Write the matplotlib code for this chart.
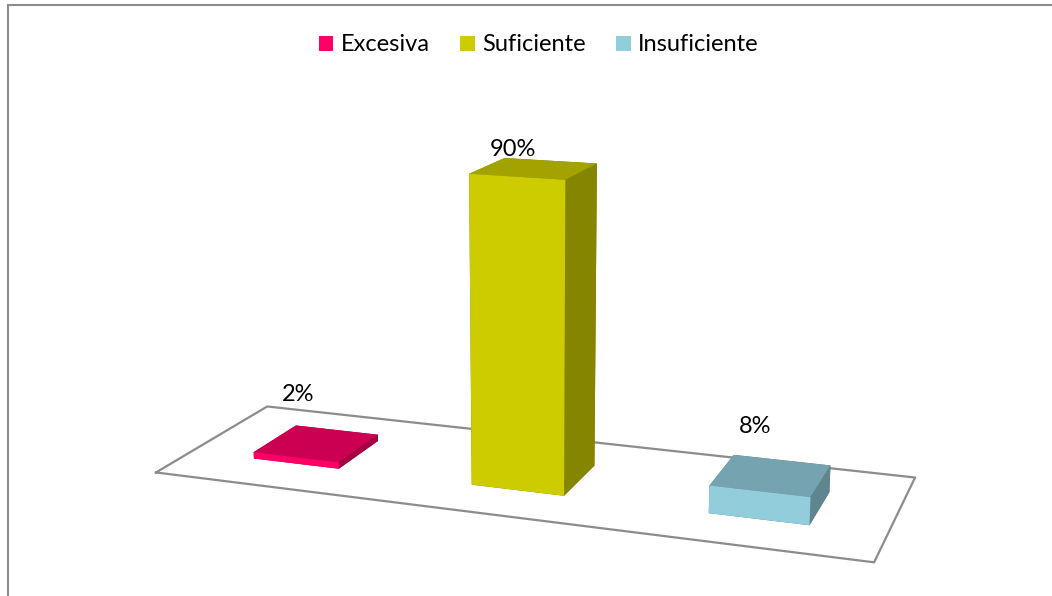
import matplotlib
matplotlib.use('Agg')
import matplotlib.pyplot as plt
import matplotlib.colors as mcolors
from matplotlib.patches import Patch, Rectangle
import numpy as np

categories = ['Excesiva', 'Suficiente', 'Insuficiente']
values = [2, 90, 8]
labels = ['2%', '90%', '8%']
base_colors = ['#FF0066', '#CCCC00', '#92CDDC']

plt.rcParams['font.family'] = ['Lato', 'DejaVu Sans']


def shade(c, f):
    r, g, b = mcolors.to_rgb(c)
    return (r * f, g * f, b * f)


fig = plt.figure(figsize=(10.52, 5.96), dpi=100)
ax = fig.add_axes([0.2167, -0.030, 0.5665, 1.0], projection='3d',
                  computed_zorder=False)
ax.set_proj_type('persp', focal_length=0.583)
ax.view_init(elev=14, azim=-70.4)
ax.set_box_aspect((3, 1, 1.435), zoom=1.389)
xlo, xhi = -0.5, len(values) - 0.5
ylo, yhi = 0, 1
ax.set_xlim(xlo, xhi)
ax.set_ylim(ylo, yhi)
ax.set_zlim(0, 100)
ax.set_axis_off()

# floor outline
ax.plot([xlo, xhi, xhi, xlo, xlo], [ylo, ylo, yhi, yhi, ylo], [0] * 5,
        color='#8c8c8c', lw=1.6, zorder=1, clip_on=False)

# bars: faces are bottom, top, front, back, left, right
bw = 0.4
face_colors = []
for c in base_colors:
    face_colors += [shade(c, 0.6), shade(c, 0.8), c,
                    shade(c, 0.6), shade(c, 0.65), shade(c, 0.65)]
xpos = np.arange(len(values)) - bw / 2
ax.bar3d(xpos, np.full(len(values), 0.5 - bw / 2), np.zeros(len(values)),
         bw, bw, values, color=face_colors, shade=False,
         edgecolor='none', linewidth=0, zorder=2, clip_on=False)

# data labels
lab_dx = [-0.08, -0.09, -0.07]
lab_off = [14.8, 5.0, 13.5]
for i, (v, t) in enumerate(zip(values, labels)):
    ax.text(i + lab_dx[i], 0.5, v + lab_off[i], t, ha='center', va='center',
            fontsize=17, zorder=3)

handles = [Patch(facecolor=c, edgecolor='none') for c in base_colors]
fig.legend(handles, categories, loc='center', bbox_to_anchor=(0.512, 0.9245),
           ncol=3, frameon=False, fontsize=17, handlelength=0.62,
           handleheight=0.62, handletextpad=0.3, columnspacing=1.3)

# chart border (only left and top edges are visible)
fig.add_artist(Rectangle((8 / 1052, -0.1), 1.2, 1 - 5 / 596 + 0.1,
                         transform=fig.transFigure, fill=False,
                         edgecolor='#8c8c8c', lw=1.5))

fig.savefig('out.png', dpi=100)
